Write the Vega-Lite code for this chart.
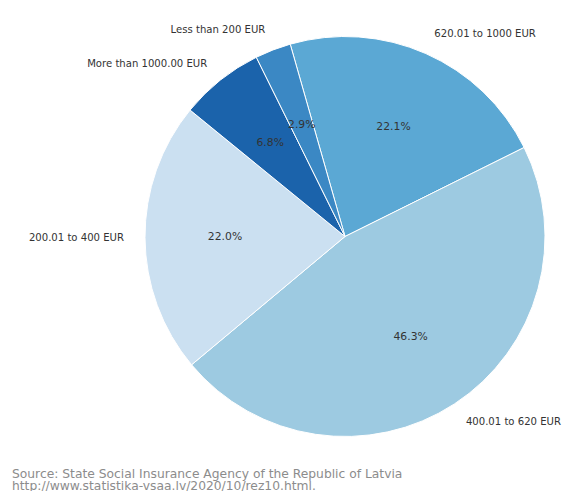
{
  "$schema": "https://vega.github.io/schema/vega-lite/v6.json",
  "width": 400,
  "height": 400,
  "autosize": {"type": "none"},
  "padding": {"left": 145, "top": 36.5, "right": 17, "bottom": 54.5},
  "background": "white",
  "config": {"view": {"stroke": null}},
  "title": {
    "text": ["Source: State Social Insurance Agency of the Republic of Latvia", "http://www.statistika-vsaa.lv/2020/10/rez10.html."],
    "orient": "bottom",
    "anchor": "start",
    "frame": "group",
    "dx": -133,
    "offset": 29,
    "font": "DejaVu Sans",
    "fontSize": 12.3,
    "fontWeight": "normal",
    "color": "#8c8c8c",
    "lineHeight": 12
  },
  "data": {
    "values": [
      {"category": "620.01 to 1000 EUR", "share": 22.1, "pct": "22.1%", "rank": 1},
      {"category": "400.01 to 620 EUR", "share": 46.3, "pct": "46.3%", "rank": 2},
      {"category": "200.01 to 400 EUR", "share": 22.0, "pct": "22.0%", "rank": 3},
      {"category": "More than 1000.00 EUR", "share": 6.8, "pct": "6.8%", "rank": 4},
      {"category": "Less than 200 EUR", "share": 2.9, "pct": "2.9%", "rank": 5}
    ]
  },
  "encoding": {
    "theta": {"field": "share", "type": "quantitative", "stack": true, "scale": {"range": [-0.2775, 6.0057]}},
    "order": {"field": "rank", "type": "quantitative"},
    "detail": {"field": "category", "type": "nominal"}
  },
  "layer": [
    {
      "mark": {"type": "arc", "stroke": "white", "strokeWidth": 1},
      "encoding": {
        "color": {
          "field": "category",
          "type": "nominal",
          "legend": null,
          "scale": {
            "domain": ["620.01 to 1000 EUR", "400.01 to 620 EUR", "200.01 to 400 EUR", "More than 1000.00 EUR", "Less than 200 EUR"],
            "range": ["#5ba8d4", "#9dcae1", "#cbe0f1", "#1b63ab", "#3b88c4"]
          }
        }
      }
    },
    {
      "mark": {"type": "text", "radius": 120, "font": "DejaVu Sans", "fontSize": 10.8, "fill": "#333333", "align": "center", "baseline": "middle"},
      "encoding": {"text": {"field": "pct", "type": "nominal"}}
    },
    {
      "mark": {
        "type": "text",
        "radius": 221,
        "font": "DejaVu Sans",
        "fontSize": 10.1,
        "fill": "#333333",
        "baseline": "middle",
        "align": {"expr": "indexof(['620.01 to 1000 EUR','400.01 to 620 EUR'], datum.category) >= 0 ? 'left' : 'right'"}
      },
      "encoding": {"text": {"field": "category", "type": "nominal"}}
    }
  ]
}
